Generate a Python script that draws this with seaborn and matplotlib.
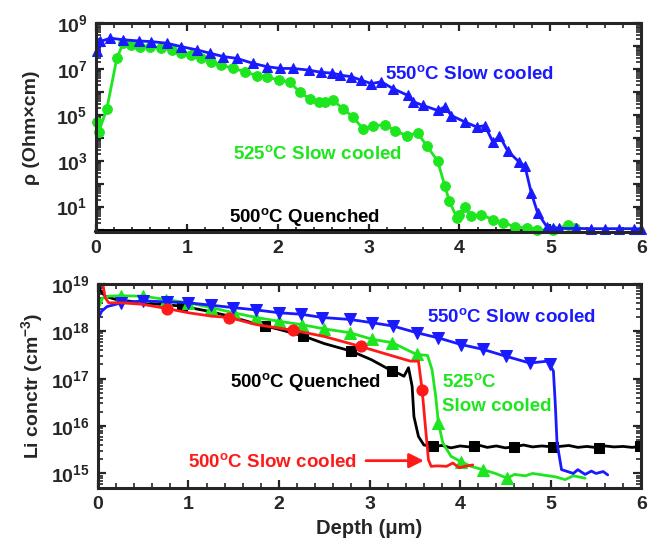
import numpy as np
import pandas as pd
import matplotlib
matplotlib.use("Agg")
import matplotlib.pyplot as plt
import matplotlib.ticker as mticker
import seaborn as sns

# ---------------- data ----------------
# Top panel: resistivity, log10(rho / Ohm*cm) vs depth (um)
top550_depth = [0.01, 0.05, 0.16, 0.30, 0.47, 0.61, 0.78, 0.94, 1.11, 1.26, 1.40, 1.55, 1.73, 1.88,
                2.03, 2.17, 2.34, 2.48, 2.60, 2.69, 2.81, 2.92, 3.03, 3.14, 3.27, 3.43, 3.49, 3.60,
                3.76, 3.84, 3.91, 4.06, 4.19, 4.28, 4.37, 4.44, 4.53, 4.66, 4.72, 4.79, 4.86, 4.96,
                5.03, 5.10, 5.28, 5.45, 5.60, 5.75, 5.92, 6.00]
top550_log = [7.76, 8.20, 8.34, 8.27, 8.22, 8.19, 8.12, 7.97, 7.83, 7.68, 7.54, 7.46, 7.24, 7.10,
              7.02, 7.02, 6.95, 6.85, 6.82, 6.73, 6.66, 6.51, 6.36, 6.44, 6.14, 5.85, 5.57, 5.41,
              5.19, 5.35, 4.97, 4.69, 4.47, 4.53, 3.80, 4.09, 3.43, 2.93, 2.77, 1.60, 0.73, 0.13,
              0.07, 0.05, 0.05, 0.04, 0.04, 0.04, 0.04, 0.03]

top525_depth = [0.01, 0.03, 0.12, 0.23, 0.30, 0.39, 0.49, 0.60, 0.72, 0.84, 0.94, 1.05, 1.16, 1.27,
                1.38, 1.51, 1.64, 1.77, 1.88, 2.01, 2.13, 2.24, 2.35, 2.46, 2.52, 2.61, 2.72, 2.83,
                2.94, 3.05, 3.18, 3.29, 3.42, 3.54, 3.64, 3.76, 3.84, 3.89, 3.97, 4.00, 4.06, 4.13,
                4.24, 4.37, 4.48, 4.61, 4.74, 4.85, 5.03, 5.19, 5.27]
top525_log = [4.69, 4.25, 5.26, 7.46, 8.12, 8.05, 7.97, 7.97, 7.90, 7.83, 7.68, 7.61, 7.46, 7.32,
              7.17, 7.02, 6.88, 6.70, 6.66, 6.51, 6.44, 6.00, 5.70, 5.56, 5.56, 5.63, 5.26, 4.90,
              4.38, 4.53, 4.56, 4.31, 4.09, 4.21, 3.65, 2.99, 1.89, 1.23, 0.52, 0.65, 1.00, 0.57,
              0.65, 0.43, 0.30, 0.13, 0.07, -0.01, -0.01, 0.20, 0.07]

top500q_depth = [0.0, 1.0, 2.0, 3.0, 4.0, 4.95]
top500q_log = [-0.07, -0.07, -0.07, -0.07, -0.07, -0.07]

# Bottom panel: Li concentration, log10(c / cm^-3) vs depth (um)
bot500q_depth = [0.00, 0.01, 0.03, 0.08, 0.20, 0.49, 0.93, 1.20, 1.45, 1.70, 1.85, 2.00, 2.27, 2.50,
                 2.80, 3.02, 3.25, 3.33, 3.38, 3.43, 3.47, 3.49, 3.54, 3.60, 3.70, 3.80, 3.90, 4.00,
                 4.10, 4.15, 4.20, 4.30, 4.40, 4.50, 4.59, 4.70, 4.80, 4.90, 5.03, 5.10, 5.20, 5.30,
                 5.40, 5.53, 5.60, 5.70, 5.80, 5.90, 5.99]
bot500q_log = [19.10, 18.95, 18.85, 18.74, 18.67, 18.60, 18.53, 18.43, 18.32, 18.18, 18.11, 18.04,
               17.90, 17.74, 17.58, 17.40, 17.16, 17.10, 17.05, 17.23, 16.84, 16.20, 15.78, 15.60,
               15.57, 15.59, 15.54, 15.58, 15.56, 15.57, 15.60, 15.55, 15.58, 15.54, 15.56, 15.60,
               15.56, 15.58, 15.56, 15.57, 15.59, 15.55, 15.57, 15.54, 15.58, 15.56, 15.57, 15.55,
               15.57]
bot500q_marks = [6, 10, 12, 14, 16, 24, 29, 34, 38, 43, 48]

bot500s_depth = [0.00, 0.03, 0.05, 0.08, 0.12, 0.26, 0.49, 0.76, 1.00, 1.25, 1.45, 1.75, 2.16, 2.50,
                 2.90, 3.20, 3.45, 3.54, 3.58, 3.61, 3.65, 3.68, 3.75, 3.85, 3.92, 3.99, 4.05, 4.14]
bot500s_log = [18.90, 19.10, 19.05, 18.71, 18.60, 18.60, 18.57, 18.48, 18.39, 18.32, 18.29, 18.14,
               18.02, 17.89, 17.68, 17.51, 17.37, 17.37, 16.77, 16.13, 15.29, 15.15, 15.16, 15.15,
               15.22, 15.12, 15.15, 15.18]
bot500s_marks = [7, 10, 12, 14, 18]

bot525_depth = [0.00, 0.02, 0.05, 0.12, 0.25, 0.50, 0.75, 1.00, 1.25, 1.50, 1.75, 2.00, 2.25, 2.50,
                2.78, 3.03, 3.25, 3.52, 3.64, 3.69, 3.73, 3.76, 3.81, 3.90, 4.01, 4.12, 4.25, 4.39,
                4.52, 4.60, 4.72, 4.80, 4.94, 5.05, 5.16, 5.25, 5.38]
bot525_log = [18.85, 18.55, 18.70, 18.74, 18.75, 18.74, 18.67, 18.60, 18.50, 18.39, 18.29, 18.21,
              18.14, 18.05, 17.97, 17.83, 17.76, 17.51, 17.49, 17.19, 16.63, 16.07, 15.64, 15.36,
              15.25, 15.15, 15.08, 15.00, 14.90, 14.98, 14.95, 15.00, 14.96, 14.93, 14.87, 14.95,
              14.90]
bot525_marks = [4, 5, 6, 7, 8, 9, 10, 11, 12, 13, 14, 15, 16, 17, 21, 24, 26, 28]

bot550_depth = [0.00, 0.04, 0.10, 0.26, 0.50, 0.76, 1.00, 1.25, 1.49, 1.75, 2.00, 2.24, 2.48, 2.78,
                3.03, 3.26, 3.52, 3.76, 4.01, 4.25, 4.51, 4.77, 4.97, 4.99, 5.03, 5.05, 5.07, 5.12,
                5.17, 5.25, 5.30, 5.38, 5.45, 5.50, 5.58, 5.63]
bot550_log = [18.25, 18.42, 18.52, 18.60, 18.64, 18.62, 18.60, 18.55, 18.50, 18.45, 18.39, 18.36,
              18.29, 18.25, 18.18, 18.11, 17.97, 17.86, 17.72, 17.62, 17.47, 17.33, 17.37, 17.30,
              17.16, 16.50, 15.65, 15.08, 15.05, 15.00, 15.08, 14.98, 15.05, 15.00, 15.04, 14.97]
bot550_marks = list(range(3, 22)) + [23]

xticks = [0, 1, 2, 3, 4, 5, 6]

# ---------------- style ----------------
sns.set_style("ticks")
plt.rcParams['font.family'] = ['Liberation Sans', 'DejaVu Sans']
plt.rcParams['font.weight'] = 'bold'
plt.rcParams['axes.labelweight'] = 'bold'
plt.rcParams['mathtext.fontset'] = 'custom'
plt.rcParams['mathtext.rm'] = 'Liberation Sans:bold'
plt.rcParams['mathtext.bf'] = 'Liberation Sans:bold'
plt.rcParams['mathtext.it'] = 'Liberation Sans:bold'
plt.rcParams['mathtext.default'] = 'bf'

BLUE = '#1a1aff'
GREEN = '#1ee61e'
RED = '#ff1a1a'
BLACK = '#000000'
LABEL_FS = 13.5

fig = plt.figure(figsize=(6.57, 5.48), dpi=100)
ax1 = fig.add_axes([0.146, 0.577, 0.830, 0.381])
ax2 = fig.add_axes([0.149, 0.110, 0.827, 0.372])


def style_axis(ax, ylo, yhi, label_exps):
    ax.set_yscale('log')
    ax.set_xlim(0, 6)
    ax.set_ylim(ylo, yhi)
    ax.set_xticks(xticks)
    ax.xaxis.set_minor_locator(mticker.MultipleLocator(0.2))
    lo = int(np.floor(np.log10(ylo)))
    hi = int(np.ceil(np.log10(yhi)))
    majors = [10.0 ** e for e in range(lo, hi + 1)]
    ax.yaxis.set_major_locator(mticker.FixedLocator(majors))
    ax.yaxis.set_minor_locator(mticker.LogLocator(base=10, subs=np.arange(2, 10), numticks=50))

    def fmt(v, pos):
        e = int(round(np.log10(v)))
        return r'$\mathbf{10^{%d}}$' % e if e in label_exps else ''
    ax.yaxis.set_major_formatter(mticker.FuncFormatter(fmt))
    ax.yaxis.set_minor_formatter(mticker.NullFormatter())
    ax.tick_params(which='both', direction='in', top=True, right=True)
    ax.tick_params(which='major', length=6, width=1.6, labelsize=14, pad=6)
    ax.tick_params(which='minor', length=3.5, width=1.2)
    for s in ax.spines.values():
        s.set_linewidth(2.2)
        s.set_visible(True)


# ---------------- top panel ----------------
df = pd.DataFrame({'d': top500q_depth, 'v': [10 ** v for v in top500q_log]})
sns.lineplot(data=df, x='d', y='v', ax=ax1, color=BLACK, lw=3.5, clip_on=False)
df = pd.DataFrame({'d': top525_depth, 'v': [10 ** v for v in top525_log]})
sns.lineplot(data=df, x='d', y='v', ax=ax1, color=GREEN, lw=2, marker='o', markersize=7,
             markeredgecolor=GREEN, clip_on=False)
df = pd.DataFrame({'d': top550_depth, 'v': [10 ** v for v in top550_log]})
sns.lineplot(data=df, x='d', y='v', ax=ax1, color=BLUE, lw=2, marker='^', markersize=7.5,
             markeredgecolor=BLUE, clip_on=False)

style_axis(ax1, 0.8, 1e9, [1, 3, 5, 7, 9])
ax1.set_xlabel('')
ax1.set_ylabel(u'\u03c1 (Ohm\u00d7cm)', fontsize=14, labelpad=12)
ax1.text(3.18, 10 ** 6.8, r'550$^{o}$C Slow cooled', color=BLUE, fontsize=LABEL_FS,
         fontweight='bold', va='center', ha='left')
ax1.text(1.51, 10 ** 3.29, r'525$^{o}$C Slow cooled', color=GREEN, fontsize=LABEL_FS,
         fontweight='bold', va='center', ha='left')
ax1.text(1.46, 10 ** 0.55, r'500$^{o}$C Quenched', color=BLACK, fontsize=LABEL_FS,
         fontweight='bold', va='center', ha='left')

# ---------------- bottom panel ----------------
series = [
    (bot500q_depth, bot500q_log, bot500q_marks, BLACK, 's', 7),
    (bot525_depth, bot525_log, bot525_marks, GREEN, '^', 8),
    (bot550_depth, bot550_log, bot550_marks, BLUE, 'v', 8),
    (bot500s_depth, bot500s_log, bot500s_marks, RED, 'o', 8),
]
for dep, lg, marks, col, mk, ms in series:
    df = pd.DataFrame({'d': dep, 'v': [10 ** v for v in lg]})
    sns.lineplot(data=df, x='d', y='v', ax=ax2, color=col, lw=2, marker=mk, markersize=ms,
                 markevery=marks, markeredgecolor=col)

style_axis(ax2, 5e14, 1e19, [15, 16, 17, 18, 19])
ax2.set_xlabel(u'Depth (\u03bcm)', fontsize=14.5, labelpad=4)
ax2.set_ylabel(r'Li conctr (cm$^{-3}$)', fontsize=14, labelpad=4)

ax2.text(3.63, 10 ** 18.31, r'550$^{o}$C Slow cooled', color=BLUE, fontsize=LABEL_FS,
         fontweight='bold', va='center', ha='left')
ax2.text(1.46, 10 ** 16.94, r'500$^{o}$C Quenched', color=BLACK, fontsize=LABEL_FS,
         fontweight='bold', va='center', ha='left')
ax2.text(3.80, 10 ** 16.92, r'525$^{o}$C', color=GREEN, fontsize=LABEL_FS,
         fontweight='bold', va='center', ha='left')
ax2.text(3.80, 10 ** 16.41, 'Slow cooled', color=GREEN, fontsize=LABEL_FS,
         fontweight='bold', va='center', ha='left')
ax2.text(0.99, 10 ** 15.25, r'500$^{o}$C Slow cooled', color=RED, fontsize=LABEL_FS,
         fontweight='bold', va='center', ha='left')
ax2.annotate('', xy=(3.63, 10 ** 15.27), xytext=(2.93, 10 ** 15.27),
             arrowprops=dict(arrowstyle='-|>', color=RED, lw=2, mutation_scale=22))

fig.savefig('out.png', dpi=100)
